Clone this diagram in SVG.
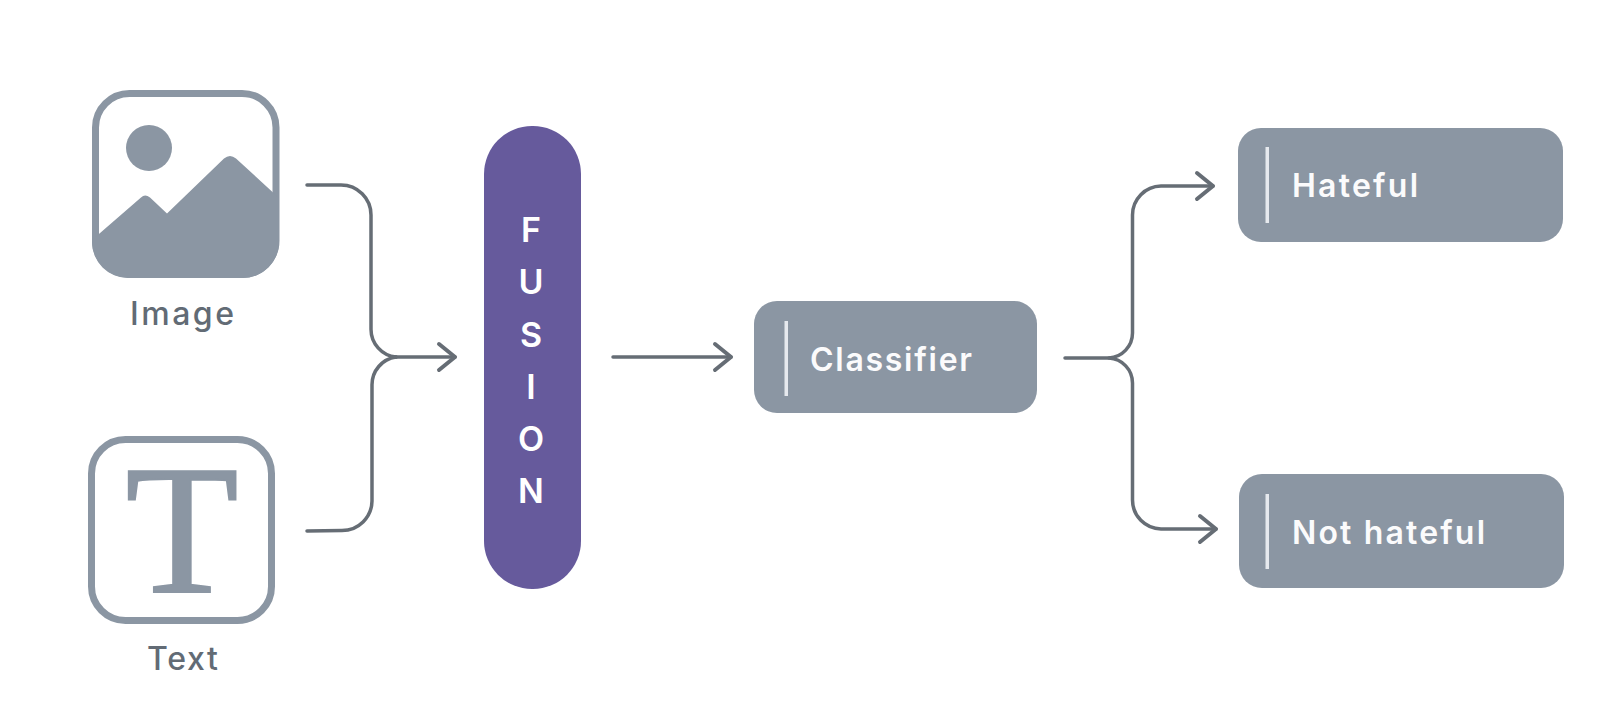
<svg xmlns="http://www.w3.org/2000/svg" width="1616" height="726" viewBox="0 0 1616 726">
<style>
.conn{fill:none;stroke:#666d75;stroke-width:3.500;stroke-linecap:round}
.box{fill:#8b96a3}
.div{fill:#e6e9ee}
.lbl{font-family:"Inter","Noto Sans",sans-serif;font-weight:500;fill:#626b75;font-size:32px}
.boxt{font-family:"Inter","Noto Sans",sans-serif;font-weight:600;fill:#fbfbfc;font-size:32px}
.fus{font-family:"Inter","Noto Sans",sans-serif;font-weight:600;fill:#fff;font-size:34px;text-anchor:middle}
</style>
<defs>
<marker id="arrow" markerUnits="userSpaceOnUse" markerWidth="24" markerHeight="34" refX="19" refY="15" orient="auto" overflow="visible">
<path d="M3 2L19 15L3 28" fill="none" stroke="#666d75" stroke-width="4" stroke-linecap="round" stroke-linejoin="round"/>
</marker>
</defs>
<rect width="1616" height="726" fill="#fff"/>
<g id="connectors">
<path class="conn" d="M307 185H341A30 30 0 0 1 371 215V329A28 28 0 0 0 396 357"/>
<path class="conn" d="M307 531L342 530.500A30 30 0 0 0 372 501V385A28 28 0 0 1 396 357"/>
<path class="conn" d="M392 357H455" marker-end="url(#arrow)"/>
<path class="conn" d="M613 357H731" marker-end="url(#arrow)"/>
<path class="conn" d="M1065 358H1109A25 25 0 0 0 1132.500 333V215A29 29 0 0 1 1161 186H1213" marker-end="url(#arrow)"/>
<path class="conn" d="M1109 358A25 25 0 0 1 1132.500 383V500A29 29 0 0 0 1161 529H1216" marker-end="url(#arrow)"/>
</g>
<g id="node-image">
<rect x="95.500" y="93.500" width="180.500" height="181" rx="34" fill="none" stroke="#8b96a3" stroke-width="7"/>
<circle cx="149" cy="148" r="23" fill="#8b96a3"/>
<path class="box" d="M92 240L141 197.500Q145 193.500 150 197.500L167 213.500L224 158.500Q230 153.500 236 158.500L279 198V242A36 36 0 0 1 243 278H128A36 36 0 0 1 92 242Z"/>
<text class="lbl" x="130" y="325" textLength="104">Image</text>
</g>
<g id="node-text">
<rect x="91.500" y="439.500" width="180" height="181" rx="34" fill="none" stroke="#8b96a3" stroke-width="7"/>
<text x="182" y="592" font-family="'Liberation Serif',serif" font-size="185" fill="#8b96a3" stroke="#8b96a3" stroke-width="2" text-anchor="middle">T</text>
<text class="lbl" x="147" y="670" textLength="71">Text</text>
</g>
<g id="node-fusion">
<rect x="484" y="126" width="97" height="463" rx="48" fill="#665a9c"/>
<text class="fus" x="531" y="242">F</text>
<text class="fus" x="531" y="294">U</text>
<text class="fus" x="531" y="347">S</text>
<text class="fus" x="531" y="399">I</text>
<text class="fus" x="531" y="451">O</text>
<text class="fus" x="531" y="503">N</text>
</g>
<g id="node-classifier">
<rect class="box" x="754" y="301" width="283" height="112" rx="23"/>
<rect class="div" x="784.500" y="321" width="3.500" height="75"/>
<text class="boxt" x="810" y="371" textLength="162">Classifier</text>
</g>
<g id="node-hateful">
<rect class="box" x="1238" y="128" width="325" height="114" rx="23"/>
<rect class="div" x="1265.500" y="147" width="3.500" height="76"/>
<text class="boxt" x="1292" y="197" textLength="126">Hateful</text>
</g>
<g id="node-not-hateful">
<rect class="box" x="1239" y="474" width="325" height="114" rx="23"/>
<rect class="div" x="1265.500" y="494" width="3.500" height="75"/>
<text class="boxt" x="1292" y="544" textLength="193">Not hateful</text>
</g>
</svg>
